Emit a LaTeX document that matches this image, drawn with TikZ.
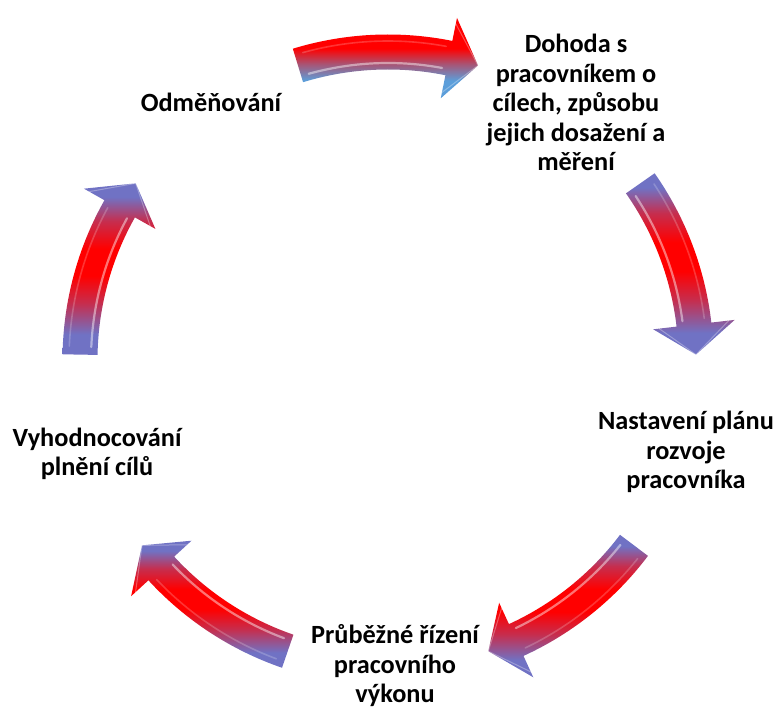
\documentclass[tikz,border=0pt]{standalone}
\usepackage{fontspec}
\setmainfont{Carlito}
\usetikzlibrary{calc}

% arrow colours
\definecolor{arrred}{RGB}{255,0,0}
\definecolor{arrblue}{RGB}{92,158,218}
\definecolor{arrpurple}{RGB}{112,114,196}

% shadings (the path box is mapped onto 25bp..75bp)
\pgfdeclareverticalshading{topshade}{100bp}{%
  color(0bp)=(arrblue); color(25bp)=(arrblue); color(36bp)=(arrblue);
  color(46bp)=(arrblue!55!arrred); color(56bp)=(arrred); color(75bp)=(arrred);
  color(100bp)=(arrred)}
\pgfdeclareverticalshading{sideshade}{100bp}{%
  color(0bp)=(arrpurple); color(25bp)=(arrpurple); color(31bp)=(arrpurple);
  color(40bp)=(arrred!60!arrpurple); color(48bp)=(arrred); color(56bp)=(arrred);
  color(64bp)=(arrred!60!arrpurple); color(71bp)=(arrpurple);
  color(75bp)=(arrpurple); color(100bp)=(arrpurple)}

\tikzset{
  label/.style={align=center, inner sep=0pt,
    font=\bfseries\fontsize{26.3}{29.5}\selectfont},
  glint/.style={white, line cap=round, opacity=#1},
}

% curved arrow on the cycle, centred on angle #1, filled with shading #2
\newcommand{\cyclearrow}[2]{%
  \pgfmathsetmacro{\aT}{#1+17}%
  \pgfmathsetmacro{\aB}{#1-11.4}%
  \pgfmathsetmacro{\aP}{#1-17}%
  \pgfmathsetmacro{\gT}{#1+15.5}%
  \pgfmathsetmacro{\gB}{#1-10.5}%
  \path[shading=#2]
    (\aT:325.5pt) arc[start angle=\aT, end angle=\aB, radius=325.5pt]
    -- (\aB:349pt) -- (\aP:308pt) -- (\aB:267pt) -- (\aB:290.5pt)
    arc[start angle=\aB, end angle=\aT, radius=290.5pt] -- cycle;
  \draw[glint=0.45, line width=2.2pt]
    (\gT:297pt) arc[start angle=\gT, end angle=\gB, radius=297pt];
  \draw[glint=0.2, line width=1.6pt]
    (\gT:319pt) arc[start angle=\gT, end angle=\gB, radius=319pt];
  \draw[glint=0.3, line width=1pt]
    (\aB:343pt) -- (\aP:308pt) -- (\aB:273pt);
}

\begin{document}
\begin{tikzpicture}[x=1pt,y=1pt]
\useasboundingbox (0,0) rectangle (779,708);

\begin{scope}[shift={(388,348)}]
  \cyclearrow{90}{topshade}
  \cyclearrow{18}{sideshade}
  \cyclearrow{-54}{sideshade}
  \cyclearrow{-126}{sideshade}
  \cyclearrow{162}{sideshade}
\end{scope}

\node[label] (dohoda) at (576,605.5)
  {Dohoda s\\pracovníkem o\\cílech, způsobu\\jejich dosažení a\\měření};
\node[label] (plan) at (686,256) {Nastavení plánu\\rozvoje\\pracovníka};
\node[label] (rizeni) at (395,42) {Průběžné řízení\\pracovního\\výkonu};
\node[label] (vyhod) at (97,254) {Vyhodnocování\\plnění cílů};
\node[label] (odmena) at (211,606) {Odměňování};
\end{tikzpicture}
\end{document}
